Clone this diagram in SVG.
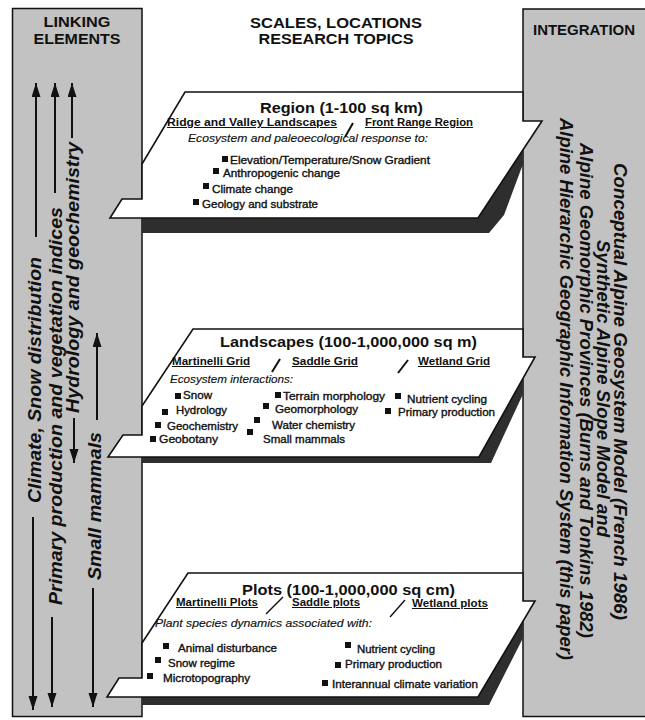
<svg xmlns="http://www.w3.org/2000/svg" width="645" height="720" viewBox="0 0 645 720">
<style>
text{font-family:"Liberation Sans",Arial,Helvetica,sans-serif;fill:#111}
.col{fill:#c2c2c2;stroke:#111;stroke-width:1.5}
.plane{fill:#fff;stroke:#111;stroke-width:1.6;stroke-linejoin:miter}
.shadow{fill:#2e2e2e}
.hd{font-size:15px;font-weight:bold}
.ttl{font-size:15px;font-weight:bold}
.sub{font-size:10px;font-weight:bold;text-decoration:underline}
.it{font-size:10.5px;font-style:italic;stroke:#111;stroke-width:0.15}
.itm{font-size:10.5px;stroke:#111;stroke-width:0.35}
.vt{font-size:19px;font-weight:bold;font-style:italic}
.rt{font-size:18px;font-weight:bold;font-style:italic}
.bul{fill:#111}
.sl{stroke:#111;stroke-width:2;fill:none}
.arr{stroke:#111;stroke-width:2;fill:none;marker-end:url(#ah)}
</style>
<defs>
<marker id="ah" markerUnits="userSpaceOnUse" markerWidth="16" markerHeight="10" refX="14" refY="4.5" orient="auto">
<path d="M0,0 L14,4.5 L0,9 z" fill="#111"/>
</marker>
</defs>

<g id="col-linking">
<rect class="col" x="12.5" y="8.5" width="129.5" height="708"/>
<text class="hd" x="77" y="27" text-anchor="middle" textLength="67" lengthAdjust="spacingAndGlyphs">LINKING</text>
<text class="hd" x="77" y="44" text-anchor="middle" textLength="87" lengthAdjust="spacingAndGlyphs">ELEMENTS</text>
<text class="vt" transform="translate(41,503) rotate(-90)" textLength="246" lengthAdjust="spacingAndGlyphs">Climate, Snow distribution</text>
<text class="vt" transform="translate(62,605) rotate(-90)" textLength="398" lengthAdjust="spacingAndGlyphs">Primary production and vegetation indices</text>
<text class="vt" transform="translate(79,413) rotate(-90)" textLength="271" lengthAdjust="spacingAndGlyphs">Hydrology and geochemistry</text>
<text class="vt" transform="translate(101,580) rotate(-90)" textLength="148" lengthAdjust="spacingAndGlyphs">Small mammals</text>
</g>

<g id="col-integration">
<rect class="col" x="523" y="9" width="130" height="707.5"/>
<text class="hd" x="584" y="35" text-anchor="middle" textLength="102" lengthAdjust="spacingAndGlyphs">INTEGRATION</text>
<text class="rt" transform="translate(614,163) rotate(90)" textLength="457" lengthAdjust="spacingAndGlyphs">Conceptual Alpine Geosystem Model (French 1986)</text>
<text class="rt" transform="translate(597,240) rotate(90)" textLength="297" lengthAdjust="spacingAndGlyphs">Synthetic Alpine Slope Model and</text>
<text class="rt" transform="translate(580,143) rotate(90)" textLength="495" lengthAdjust="spacingAndGlyphs">Alpine Geomorphic Provinces (Burns and Tonkins 1982)</text>
<text class="rt" transform="translate(560,118) rotate(90)" textLength="542" lengthAdjust="spacingAndGlyphs">Alpine Hierarchic Geographic Information System (this paper)</text>
</g>

<g id="header-scales">
<text class="hd" x="336" y="28" text-anchor="middle" textLength="172" lengthAdjust="spacingAndGlyphs">SCALES, LOCATIONS</text>
<text class="hd" x="336" y="44" text-anchor="middle" textLength="155" lengthAdjust="spacingAndGlyphs">RESEARCH TOPICS</text>
</g>

<g id="connectors">
<line class="arr" x1="36" y1="237" x2="36" y2="83"/>
<line class="arr" x1="55" y1="193" x2="55" y2="83"/>
<line class="arr" x1="72" y1="138" x2="72" y2="83"/>
<line class="arr" x1="74" y1="418" x2="74" y2="463"/>
<line class="arr" x1="97" y1="420" x2="97" y2="333"/>
<line class="arr" x1="33" y1="517" x2="33" y2="710"/>
<line class="arr" x1="52" y1="617" x2="52" y2="707"/>
<line class="arr" x1="93" y1="588" x2="93" y2="707"/>
</g>

<g id="node-region">
<polygon class="shadow" points="142,218 478,218 523,148 523,164 504,215 489,233 142,233"/>
<polygon class="plane" points="185,92 523,92 523,121 542,121 478,218 110,218 122,199 142,199 142,164"/>
<text class="ttl" x="260" y="113" textLength="163" lengthAdjust="spacingAndGlyphs">Region (1-100 sq km)</text>
<text class="sub" x="167" y="126" textLength="170" lengthAdjust="spacingAndGlyphs">Ridge and Valley Landscapes</text>
<line class="sl" x1="345" y1="137" x2="353" y2="123"/>
<text class="sub" x="365" y="126" textLength="108" lengthAdjust="spacingAndGlyphs">Front Range Region</text>
<text class="it" x="188" y="142" textLength="240" lengthAdjust="spacingAndGlyphs">Ecosystem and paleoecological response to:</text>
<rect class="bul" x="222" y="156" width="6" height="6"/>
<text class="itm" x="230" y="164" textLength="200" lengthAdjust="spacingAndGlyphs">Elevation/Temperature/Snow Gradient</text>
<rect class="bul" x="213" y="168" width="6" height="6"/>
<text class="itm" x="223" y="177" textLength="117" lengthAdjust="spacingAndGlyphs">Anthropogenic change</text>
<rect class="bul" x="203" y="183" width="6" height="6"/>
<text class="itm" x="212" y="193" textLength="81" lengthAdjust="spacingAndGlyphs">Climate change</text>
<rect class="bul" x="193" y="199" width="6" height="6"/>
<text class="itm" x="202" y="208" textLength="116" lengthAdjust="spacingAndGlyphs">Geology and substrate</text>
</g>

<g id="node-landscapes">
<polygon class="shadow" points="142,457 479,457 523,378 523,394 491,463 142,463"/>
<polygon class="plane" points="193,329 523,329 523,357 535,357 479,457 108,457 123,435 142,435 142,406"/>
<text class="ttl" x="220" y="347" textLength="257" lengthAdjust="spacingAndGlyphs">Landscapes (100-1,000,000 sq m)</text>
<text class="sub" x="172" y="365" textLength="78" lengthAdjust="spacingAndGlyphs">Martinelli Grid</text>
<line class="sl" x1="272" y1="372" x2="280" y2="359"/>
<text class="sub" x="292" y="365" textLength="66" lengthAdjust="spacingAndGlyphs">Saddle Grid</text>
<line class="sl" x1="398" y1="373" x2="408" y2="360"/>
<text class="sub" x="418" y="365" textLength="72" lengthAdjust="spacingAndGlyphs">Wetland Grid</text>
<text class="it" x="170" y="383" textLength="123" lengthAdjust="spacingAndGlyphs">Ecosystem interactions:</text>
<rect class="bul" x="175" y="393" width="6" height="6"/>
<text class="itm" x="183" y="399" textLength="29" lengthAdjust="spacingAndGlyphs">Snow</text>
<rect class="bul" x="162" y="409" width="6" height="6"/>
<text class="itm" x="176" y="414" textLength="51" lengthAdjust="spacingAndGlyphs">Hydrology</text>
<rect class="bul" x="155" y="422" width="6" height="6"/>
<text class="itm" x="167" y="430" textLength="71" lengthAdjust="spacingAndGlyphs">Geochemistry</text>
<rect class="bul" x="150" y="436" width="6" height="6"/>
<text class="itm" x="159" y="443" textLength="59" lengthAdjust="spacingAndGlyphs">Geobotany</text>
<rect class="bul" x="275" y="392" width="6" height="6"/>
<text class="itm" x="283" y="400" textLength="102" lengthAdjust="spacingAndGlyphs">Terrain morphology</text>
<rect class="bul" x="263" y="403" width="6" height="6"/>
<text class="itm" x="275" y="413" textLength="83" lengthAdjust="spacingAndGlyphs">Geomorphology</text>
<rect class="bul" x="254" y="417" width="6" height="6"/>
<text class="itm" x="272" y="429" textLength="83" lengthAdjust="spacingAndGlyphs">Water chemistry</text>
<rect class="bul" x="247" y="429" width="6" height="6"/>
<text class="itm" x="263" y="443" textLength="82" lengthAdjust="spacingAndGlyphs">Small mammals</text>
<rect class="bul" x="395" y="393" width="6" height="6"/>
<text class="itm" x="407" y="403" textLength="80" lengthAdjust="spacingAndGlyphs">Nutrient cycling</text>
<rect class="bul" x="385" y="408" width="6" height="6"/>
<text class="itm" x="398" y="416" textLength="97" lengthAdjust="spacingAndGlyphs">Primary production</text>
</g>

<g id="node-plots">
<polygon class="shadow" points="142,697 478,697 523,621 523,638 489,705 142,705"/>
<polygon class="plane" points="188,573 523,573 523,601 535,601 478,697 107,697 119,678 142,678 142,643"/>
<text class="ttl" x="242" y="595" textLength="213" lengthAdjust="spacingAndGlyphs">Plots (100-1,000,000 sq cm)</text>
<text class="sub" x="176" y="606" textLength="82" lengthAdjust="spacingAndGlyphs">Martinelli Plots</text>
<line class="sl" x1="266" y1="614" x2="283" y2="597" style="stroke-width:1.4"/>
<text class="sub" x="292" y="606" textLength="68" lengthAdjust="spacingAndGlyphs">Saddle plots</text>
<line class="sl" x1="390" y1="617" x2="405" y2="600" style="stroke-width:1.4"/>
<text class="sub" x="412" y="607" textLength="76" lengthAdjust="spacingAndGlyphs">Wetland plots</text>
<text class="it" x="155" y="627" textLength="217" lengthAdjust="spacingAndGlyphs">Plant species dynamics associated with:</text>
<rect class="bul" x="163" y="643" width="6" height="6"/>
<text class="itm" x="178" y="652" textLength="99" lengthAdjust="spacingAndGlyphs">Animal disturbance</text>
<rect class="bul" x="155" y="657" width="6" height="6"/>
<text class="itm" x="168" y="667" textLength="67" lengthAdjust="spacingAndGlyphs">Snow regime</text>
<rect class="bul" x="147" y="673" width="6" height="6"/>
<text class="itm" x="163" y="682" textLength="87" lengthAdjust="spacingAndGlyphs">Microtopography</text>
<rect class="bul" x="345" y="642" width="6" height="6"/>
<text class="itm" x="357" y="653" textLength="78" lengthAdjust="spacingAndGlyphs">Nutrient cycling</text>
<rect class="bul" x="335" y="662" width="6" height="6"/>
<text class="itm" x="345" y="668" textLength="97" lengthAdjust="spacingAndGlyphs">Primary production</text>
<rect class="bul" x="322" y="680" width="6" height="6"/>
<text class="itm" x="332" y="688" textLength="146" lengthAdjust="spacingAndGlyphs">Interannual climate variation</text>
</g>
</svg>
